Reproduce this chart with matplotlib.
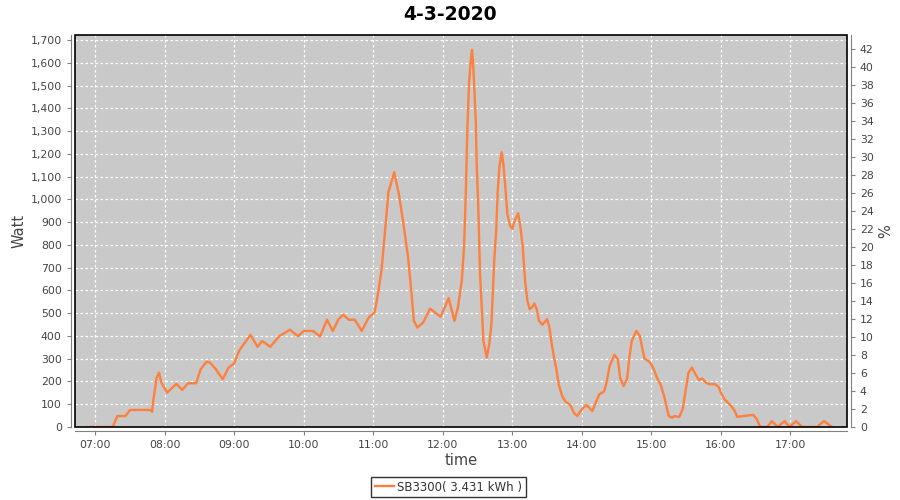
import matplotlib
matplotlib.use("Agg")
import matplotlib.pyplot as plt
from matplotlib.patches import Rectangle
from matplotlib.ticker import FuncFormatter, MultipleLocator, FixedLocator

# ---- data ----
times = ["06:54", "07:15", "07:19", "07:26", "07:30", "07:47", "07:49", "07:50", "07:53", "07:55",
         "07:57", "08:02", "08:10", "08:15", "08:20", "08:27", "08:31", "08:36", "08:39", "08:44",
         "08:50", "08:55", "09:00", "09:04", "09:09", "09:14", "09:20", "09:24", "09:31", "09:39",
         "09:48", "09:55", "10:00", "10:08", "10:14", "10:20", "10:25", "10:30", "10:34", "10:39",
         "10:44", "10:50", "10:56", "11:01", "11:04", "11:07", "11:10", "11:13", "11:18", "11:22",
         "11:26", "11:30", "11:33", "11:35", "11:38", "11:43", "11:49", "11:58", "12:05", "12:10",
         "12:13", "12:16:18", "12:18:18", "12:19:48", "12:21:06", "12:22:36", "12:24:06", "12:25:12",
         "12:26:18", "12:27:12", "12:28:24", "12:29:18", "12:30:36", "12:32:06", "12:33:36", "12:35:00",
         "12:37:54", "12:40:06", "12:41:54", "12:43:06", "12:44:30", "12:45:54", "12:47:24", "12:48:48",
         "12:50:48", "12:52:12", "12:53:42", "12:55:42", "12:58", "13:00",
         "13:02", "13:05", "13:07", "13:09", "13:11", "13:13", "13:15", "13:17", "13:19", "13:21",
         "13:23", "13:26", "13:30", "13:32", "13:34", "13:36", "13:38", "13:40", "13:43", "13:46",
         "13:50", "13:53", "13:56", "14:00", "14:04", "14:09", "14:15", "14:19", "14:21", "14:24",
         "14:28", "14:31", "14:33", "14:36", "14:39", "14:41", "14:43", "14:47", "14:50", "14:52",
         "14:54", "14:59", "15:02", "15:05", "15:08", "15:11", "15:15", "15:18", "15:20", "15:24",
         "15:27", "15:30", "15:32", "15:35", "15:38", "15:41", "15:44", "15:47", "15:50", "15:55",
         "15:58", "16:00", "16:03", "16:06", "16:09", "16:12", "16:14", "16:19", "16:28", "16:31",
         "16:34", "16:40", "16:44", "16:49", "16:55", "16:59", "17:05", "17:10", "17:23", "17:29",
         "17:36"]
watts = [0, 0, 48, 48, 75, 75, 67, 114, 217, 239,
         195, 151, 190, 163, 192, 192, 254, 287, 283, 254,
         210, 261, 280, 334, 370, 405, 352, 378, 352, 400,
         427, 399, 422, 422, 397, 471, 422, 474, 493, 471,
         471, 422, 481, 503, 584, 686, 855, 1031, 1119, 1024,
         892, 745, 584, 466, 437, 459, 520, 484, 566, 466,
         525, 642, 789, 1024, 1302, 1508, 1610, 1657,
         1581, 1486, 1346, 1141, 965, 672, 525, 378,
         305, 364, 452, 584, 745, 848, 1038, 1141,
         1207, 1156, 1068, 936, 884, 870,
         906, 939, 877, 789, 642, 554, 518, 525, 543, 518,
         466, 449, 474, 437, 364, 305, 254, 188, 136, 111,
         97, 63, 48, 78, 97, 70, 144, 155, 188, 268,
         317, 298, 217, 180, 210, 305, 378, 422, 400, 349,
         302, 283, 254, 214, 185, 136, 48, 41, 48, 44,
         78, 173, 239, 261, 232, 207, 213, 195, 188, 188,
         176, 151, 122, 107, 92, 70, 45, 48, 53, 34,
         0, 0, 26, 0, 26, 0, 26, 0, 0, 26,
         0]
hour_ticks = ["07:00", "08:00", "09:00", "10:00", "11:00", "12:00",
              "13:00", "14:00", "15:00", "16:00", "17:00"]
title = "4-3-2020"
series_label = "SB3300( 3.431 kWh )"


def to_hours(s):
    parts = [int(p) for p in s.split(":")]
    h, m = parts[0], parts[1]
    sec = parts[2] if len(parts) > 2 else 0
    return h + m / 60.0 + sec / 3600.0


x = [to_hours(t) for t in times]
xt = [to_hours(t) for t in hour_ticks]

plt.rcParams['font.family'] = ['DejaVu Sans']
fig = plt.figure(figsize=(9, 5), dpi=100)
fig.patch.set_facecolor("white")

left, right, top, bottom = 75, 846.7, 35, 427
ax = fig.add_axes([left / 900, 1 - bottom / 500, (right - left) / 900, (bottom - top) / 500])
ax.set_facecolor("#c9c9c9")

line, = ax.plot(x, watts, color="#ff7f3c", lw=1.7, label=series_label, zorder=3,
                solid_joinstyle="round")

ax.set_xlim(6.708, 17.81)
ax.set_ylim(0, 1722)
ax.xaxis.set_major_locator(FixedLocator(xt))
ax.set_xticklabels(hour_ticks)
ax.yaxis.set_major_locator(MultipleLocator(100))
ax.yaxis.set_major_formatter(FuncFormatter(lambda v, p: f"{int(round(v)):,}"))

ax.grid(True, color="white", linestyle=(0, (2, 2)), linewidth=0.9)
ax.set_axisbelow(True)

ax2 = ax.twinx()
ax2.set_ylim(0, 43.55)
ax2.yaxis.set_major_locator(MultipleLocator(2))
ax2.yaxis.set_major_formatter(FuncFormatter(lambda v, p: f"{int(round(v))}"))

gray = "#808080"
for a in (ax, ax2):
    for s in a.spines.values():
        s.set_visible(False)
ax.spines['left'].set_visible(True)
ax.spines['left'].set_position(('outward', 3))
ax.spines['left'].set_color(gray)
ax.spines['bottom'].set_visible(True)
ax.spines['bottom'].set_position(('outward', 3))
ax.spines['bottom'].set_color(gray)
ax2.spines['right'].set_visible(True)
ax2.spines['right'].set_position(('outward', 3))
ax2.spines['right'].set_color(gray)

ax.tick_params(axis='both', colors=gray, labelcolor="#444444", labelsize=7.8, length=3, width=0.8)
ax2.tick_params(axis='y', colors=gray, labelcolor="#444444", labelsize=7.8, length=3, width=0.8)

# black plot outline
ax.add_patch(Rectangle((0, 0), 1, 1, transform=ax.transAxes, fill=False,
                       edgecolor="black", linewidth=1.2, zorder=5, clip_on=False))

ax.set_ylabel("Watt", fontsize=10.5, color="#444444", labelpad=3)
ax.set_xlabel("time", fontsize=10.5, color="#444444", labelpad=2)
ax2.set_ylabel("%", fontsize=10.5, color="#444444", labelpad=3)

fig.text(0.5, 1 - 14 / 500, title, ha="center", va="center", fontsize=13.5, fontweight="bold")

leg = fig.legend(handles=[line], loc="center", bbox_to_anchor=(448.5 / 900, 1 - 487 / 500),
                 frameon=True, fancybox=False, edgecolor="black", fontsize=8.5,
                 handlelength=1.6, handletextpad=0.3, borderpad=0.3, borderaxespad=0)
leg.get_frame().set_linewidth(1.0)
for t in leg.get_texts():
    t.set_color("#333333")

fig.savefig("out.png", dpi=100)
